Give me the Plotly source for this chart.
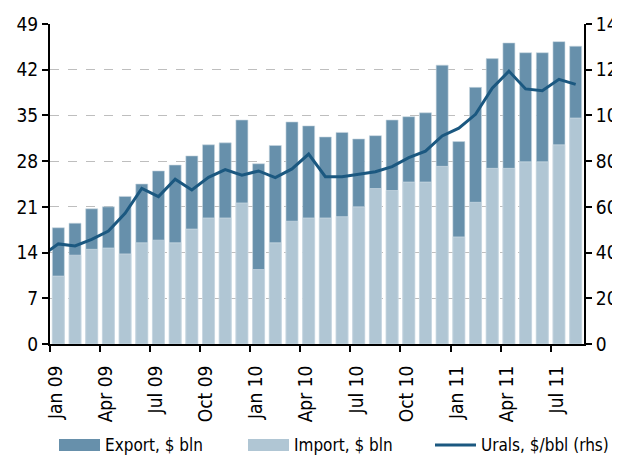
import plotly.graph_objects as go

months = ["Jan 09","Feb 09","Mar 09","Apr 09","May 09","Jun 09","Jul 09","Aug 09","Sep 09","Oct 09","Nov 09","Dec 09",
          "Jan 10","Feb 10","Mar 10","Apr 10","May 10","Jun 10","Jul 10","Aug 10","Sep 10","Oct 10","Nov 10","Dec 10",
          "Jan 11","Feb 11","Mar 11","Apr 11","May 11","Jun 11","Jul 11","Aug 11"]
export = [17.8,18.5,20.7,21.0,22.6,24.5,26.5,27.4,28.8,30.5,30.8,34.3,
          27.6,30.4,34.0,33.4,31.7,32.4,31.4,31.9,34.3,34.8,35.4,42.7,
          31.0,39.3,43.7,46.1,44.6,44.6,46.3,45.6]
imports = [10.4,13.6,14.5,14.7,13.8,15.5,15.9,15.5,17.6,19.3,19.3,21.6,
           11.4,15.5,18.8,19.3,19.3,19.5,21.0,23.8,23.5,24.8,24.8,27.2,
           16.4,21.7,26.9,26.9,27.9,27.9,30.5,34.6]
urals_dec08 = 38.5
urals = [43.8,42.9,45.8,49.4,57.2,68.1,64.5,72.1,67.4,72.9,76.3,73.9,
         75.7,72.8,76.6,83.1,73.2,73.2,74.2,75.4,77.6,81.5,84.4,91.0,
         94.4,100.5,111.9,119.4,111.6,110.8,115.8,113.6]
left_ticks = [0,7,14,21,28,35,42,49]
right_ticks = [0,20,40,60,80,100,120,140]
tick_months = ["Jan 09","Apr 09","Jul 09","Oct 09","Jan 10","Apr 10","Jul 10","Oct 10","Jan 11","Apr 11","Jul 11"]

C_EXP = "#6790AB"
C_IMP = "#B0C6D4"
C_LINE = "#1B5880"
FONT = "Liberation Sans Narrow, DejaVu Sans Condensed, Arial Narrow, sans-serif"

xpos = list(range(len(months)))
line_x = [-1] + xpos
line_y = [urals_dec08] + urals

fig = go.Figure()
fig.add_trace(go.Bar(x=xpos, y=export, name="Export, $ bln", marker=dict(color=C_EXP, line=dict(color="#C9D7E1", width=0.6)),
                     width=0.72, showlegend=False))
fig.add_trace(go.Bar(x=xpos, y=imports, name="Import, $ bln", marker=dict(color=C_IMP, line=dict(color="#D5E1E9", width=0.6)),
                     width=0.72, showlegend=False))
fig.add_trace(go.Scatter(x=line_x, y=line_y, name="Urals, $/bbl (rhs)", mode="lines", yaxis="y2",
                         line=dict(color=C_LINE, width=3), showlegend=False))

tickvals = [months.index(m) - 0.5 for m in tick_months]

# page body has an 8px margin, so the figure is offset by (8, 8) in the screenshot
fig.update_layout(
    width=620, height=456,
    margin=dict(l=42, r=44, t=16, b=120),
    paper_bgcolor="white", plot_bgcolor="white",
    barmode="overlay",
    font=dict(family=FONT, size=18, color="black"),
    xaxis=dict(range=[-0.5, len(months) - 0.5], tickmode="array", tickvals=tickvals, ticktext=tick_months,
               tickangle=-90, ticks="outside", ticklen=6, tickwidth=1.5, tickcolor="black",
               ticklabelshift=6, ticklabelstandoff=6,
               showline=True, linecolor="black", linewidth=2, showgrid=False, zeroline=False,
               automargin=False, tickfont=dict(size=19)),
    yaxis=dict(range=[0, 49], tickmode="array", tickvals=left_ticks, ticks="outside", ticklen=6, tickwidth=1.5,
               tickcolor="black", showline=True, linecolor="black", linewidth=2,
               showgrid=True, gridcolor="#BEBEBE", griddash="dash", gridwidth=1, zeroline=False,
               automargin=False, tickfont=dict(size=19)),
    yaxis2=dict(range=[0, 140], tickmode="array", tickvals=right_ticks, overlaying="y", side="right",
                ticks="outside", ticklen=6, tickwidth=1.5, tickcolor="black", showline=True, linecolor="black",
                linewidth=2, showgrid=False, zeroline=False, automargin=False, tickfont=dict(size=19)),
)

# custom legend (drawn in paper coordinates; page coordinates converted)
legend_items = [("Export, $ bln", C_EXP, "bar"), ("Import, $ bln", C_IMP, "bar"), ("Urals, $/bbl (rhs)", C_LINE, "line")]
sw_x = [59, 248, 435]
ly = 445
X0, Y0, W, H = 50, 344, 534, 320
for (label, col, kind), x0 in zip(legend_items, sw_x):
    if kind == "bar":
        fig.add_shape(type="rect", xref="paper", yref="paper",
                      x0=(x0 - X0) / W, x1=(x0 + 41 - X0) / W,
                      y0=(Y0 - (ly + 6)) / H, y1=(Y0 - (ly - 6)) / H,
                      fillcolor=col, line=dict(width=0))
    else:
        fig.add_shape(type="line", xref="paper", yref="paper",
                      x0=(x0 - X0) / W, x1=(x0 + 41 - X0) / W,
                      y0=(Y0 - ly) / H, y1=(Y0 - ly) / H,
                      line=dict(color=col, width=3))
    fig.add_annotation(xref="paper", yref="paper", x=(x0 + 44 - X0) / W, y=(Y0 - ly) / H,
                       text=label, showarrow=False, xanchor="left", yanchor="middle",
                       font=dict(size=17, family=FONT, color="black"))

fig.write_html("out.html")
